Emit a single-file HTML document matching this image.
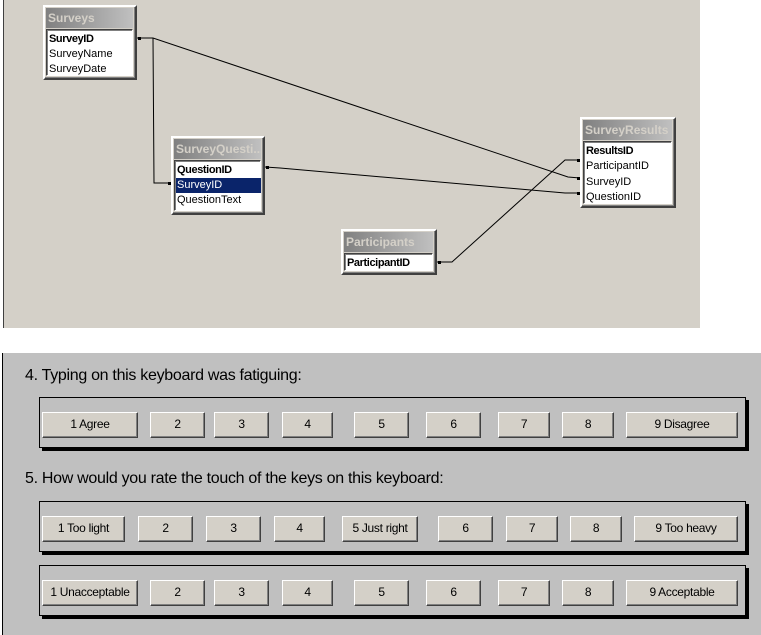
<!DOCTYPE html>
<html><head><meta charset="utf-8"><style>
*{margin:0;padding:0;box-sizing:border-box}
body{width:761px;height:635px;background:#fff;position:relative;overflow:hidden;font-family:"Liberation Sans",Tahoma,sans-serif}
.top{position:absolute;left:3px;top:0;width:697px;height:328px;background:#d4d0c8;border-left:1px solid #404040}
.bot{position:absolute;left:2px;top:353px;width:759px;height:282px;background:#c0c0c0;border-left:1px solid #000}
.tb{position:absolute;background:#d4d0c8;border:2px solid;border-color:#fff #404040 #404040 #fff;box-shadow:inset -1px -1px #808080}
.tt{position:absolute;left:1px;top:1px;right:2px;height:20px;background:linear-gradient(90deg,#808080,#c0c0c0);color:#d4d0c8;font:bold 12px "Liberation Sans",sans-serif;line-height:20px;padding-left:2px;white-space:nowrap;overflow:hidden}
.tl{position:absolute;left:1px;top:22px;right:2px;bottom:2px;background:#fff;border:1px solid;border-color:#404040 #fff #fff #404040;box-shadow:inset 1px 1px #808080}
.r{position:absolute;left:3px;right:2px;height:15px;font:11px "Liberation Sans",sans-serif;line-height:15px;padding-left:1px;color:#000;white-space:nowrap}
.b{font-weight:bold;letter-spacing:-0.4px}
.sel{background:#0a246a;color:#fff}
.q{position:absolute;left:25px;font-size:16px;color:#000;letter-spacing:-0.3px}
.gb{position:absolute;left:39px;width:707px;border:1px solid #000;box-shadow:3px 3px 0 #000}
.bt{position:absolute;height:26px;background:#d4d0c8;border:1px solid;border-color:#fff #404040 #404040 #fff;box-shadow:inset -1px -1px #808080;font-size:12px;text-align:center;line-height:23px;color:#000;letter-spacing:-0.3px}
</style></head><body>
<div class="top"></div>
<svg style="position:absolute;left:0;top:0" width="761" height="330">
<g stroke="#000" stroke-width="1" fill="none">
<polyline points="137,38 153,38 568,177 580,178"/>
<polyline points="153,38 154,183 171,183"/>
<polyline points="265,167 280,168 565,193 580,193"/>
<polyline points="437,262 452,262 565,160 580,160"/>
</g>
<g fill="#000"><rect x="138" y="37" width="3" height="3"/><rect x="168" y="182" width="3" height="3"/><rect x="266" y="166" width="3" height="3"/><rect x="577" y="159" width="3" height="3"/><rect x="577" y="177" width="3" height="3"/><rect x="577" y="192" width="3" height="3"/><rect x="438" y="261" width="3" height="3"/></g>
</svg>
<div class="tb" style="left:43px;top:5px;width:94px;height:75px"><div class="tt">Surveys</div><div class="tl"></div>
<div class="r b" style="top:25px">SurveyID</div><div class="r" style="top:40px">SurveyName</div><div class="r" style="top:55px">SurveyDate</div></div>
<div class="tb" style="left:171px;top:136px;width:94px;height:79px"><div class="tt">SurveyQuesti...</div><div class="tl"></div>
<div class="r b" style="top:25px">QuestionID</div><div class="r sel" style="top:40px">SurveyID</div><div class="r" style="top:55px">QuestionText</div></div>
<div class="tb" style="left:580px;top:117px;width:96px;height:91px"><div class="tt">SurveyResults</div><div class="tl"></div>
<div class="r b" style="top:25px">ResultsID</div><div class="r" style="top:40px">ParticipantID</div><div class="r" style="top:56px">SurveyID</div><div class="r" style="top:71px">QuestionID</div></div>
<div class="tb" style="left:341px;top:229px;width:96px;height:46px"><div class="tt">Participants</div><div class="tl"></div>
<div class="r b" style="top:25px">ParticipantID</div></div>

<div class="bot"></div>
<div class="q" style="top:367px">4. Typing on this keyboard was fatiguing:</div>
<div class="q" style="top:470px">5. How would you rate the touch of the keys on this keyboard:</div>
<div class="gb" style="top:397px;height:51px"></div>
<div class="gb" style="top:501px;height:51px"></div>
<div class="gb" style="top:565px;height:51px"></div>

<div class="bt" style="left:42px;top:412px;width:96px">1 Agree</div>
<div class="bt" style="left:150px;top:412px;width:55px">2</div>
<div class="bt" style="left:214px;top:412px;width:55px">3</div>
<div class="bt" style="left:282px;top:412px;width:51px">4</div>
<div class="bt" style="left:354px;top:412px;width:55px">5</div>
<div class="bt" style="left:426px;top:412px;width:55px">6</div>
<div class="bt" style="left:498px;top:412px;width:52px">7</div>
<div class="bt" style="left:562px;top:412px;width:52px">8</div>
<div class="bt" style="left:626px;top:412px;width:112px">9 Disagree</div>

<div class="bt" style="left:42px;top:516px;width:83px">1 Too light</div>
<div class="bt" style="left:138px;top:516px;width:55px">2</div>
<div class="bt" style="left:206px;top:516px;width:55px">3</div>
<div class="bt" style="left:274px;top:516px;width:51px">4</div>
<div class="bt" style="left:342px;top:516px;width:76px">5 Just right</div>
<div class="bt" style="left:438px;top:516px;width:55px">6</div>
<div class="bt" style="left:506px;top:516px;width:52px">7</div>
<div class="bt" style="left:570px;top:516px;width:52px">8</div>
<div class="bt" style="left:634px;top:516px;width:104px">9 Too heavy</div>

<div class="bt" style="left:42px;top:580px;width:96px">1 Unacceptable</div>
<div class="bt" style="left:150px;top:580px;width:55px">2</div>
<div class="bt" style="left:214px;top:580px;width:55px">3</div>
<div class="bt" style="left:282px;top:580px;width:51px">4</div>
<div class="bt" style="left:354px;top:580px;width:55px">5</div>
<div class="bt" style="left:426px;top:580px;width:55px">6</div>
<div class="bt" style="left:498px;top:580px;width:52px">7</div>
<div class="bt" style="left:562px;top:580px;width:52px">8</div>
<div class="bt" style="left:626px;top:580px;width:112px">9 Acceptable</div>
</body></html>
